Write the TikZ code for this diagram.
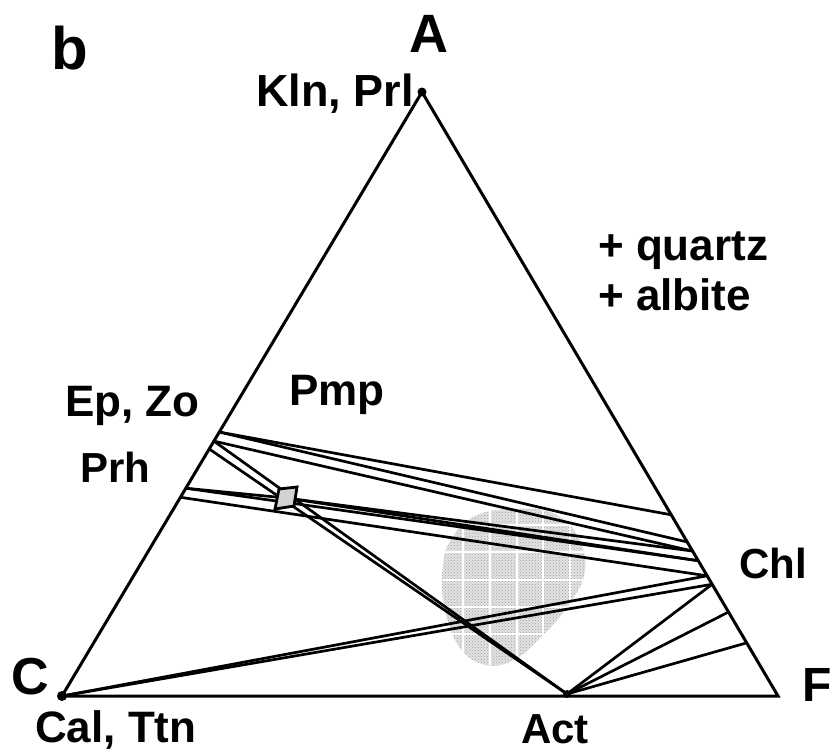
\documentclass[tikz,border=0pt]{standalone}
\usepackage{fontspec}
\setmainfont{Liberation Sans}
\usetikzlibrary{patterns,calc}
\begin{document}
\begin{tikzpicture}[x=1pt,y=-1pt,
  edge/.style={line width=3pt,line join=miter},
  tie/.style={line width=2.7pt,line cap=round},
  lbl/.style={inner sep=0pt,anchor=base west,font=\fontsize{44}{48}\selectfont\bfseries},
  vlbl/.style={inner sep=0pt,anchor=base west,font=\fontsize{54}{58}\selectfont\bfseries}]
\useasboundingbox (0,0) rectangle (834,754);
% vertices
\coordinate (A) at (422,92);
\coordinate (C) at (62,696);
\coordinate (F) at (778,696);
\coordinate (Act) at (567,694);
\coordinate (Pmp) at (286,498);
% points on C-A edge
\coordinate (L1) at ($(A)!0.563!(C)$);
\coordinate (L2) at ($(A)!0.578!(C)$);
\coordinate (L3) at ($(A)!0.591!(C)$);
\coordinate (L4) at ($(A)!0.656!(C)$);
\coordinate (L5) at ($(A)!0.671!(C)$);
% points on A-F edge
\coordinate (R1) at ($(A)!0.700!(F)$);
\coordinate (R2) at ($(A)!0.745!(F)$);
\coordinate (R3) at ($(A)!0.760!(F)$);
\coordinate (R4) at ($(A)!0.776!(F)$);
\coordinate (R5) at ($(A)!0.801!(F)$);
\coordinate (R6) at ($(A)!0.815!(F)$);
\coordinate (R7) at ($(A)!0.861!(F)$);
\coordinate (R8) at ($(A)!0.912!(F)$);
% stippled field
\begin{scope}
\clip plot[smooth cycle,tension=0.7] coordinates {(452,538) (475,516) (512,509) (552,513) (577,535) (585,570) (570,603) (542,636) (512,661) (482,664) (458,645) (444,605) (443,565)};
\fill[gray!22] (430,500) rectangle (600,680);
\fill[pattern=crosshatch dots,pattern color=gray!75] (430,500) rectangle (600,680);
\foreach \gx in {463,490,517,543,570} \draw[white,line width=1.4pt] (\gx,500) -- (\gx,680);
\foreach \gy in {525,552,580,607,634} \draw[white,line width=1.4pt] (430,\gy) -- (600,\gy);
\end{scope}
% tie lines
\draw[tie] (L1) -- (R1);
\draw[tie] (L1) -- (R2);
\draw[tie] (L2) -- (R3);
\draw[tie] (L2) -- (Act);
\draw[tie] (L3) -- (Act);
\draw[tie] (Pmp) -- (R3);
\draw[tie] (Pmp) -- (R4);
\draw[tie] (L4) -- (Pmp);
\draw[tie] (L4) -- (R4);
\draw[tie] (L5) -- (R5);
\draw[tie] (C) -- (R5);
\draw[tie] (C) -- (R6);
\draw[tie] (Act) -- (R6);
\draw[tie] (Act) -- (R7);
\draw[tie] (Act) -- (R8);
% pumpellyite box
\draw[line width=2.8pt,fill=gray!35] (279,489) -- (297,487) -- (294,506) -- (275,509) -- cycle;
% triangle
\draw[edge] (C) -- (A) -- (F) -- cycle;
\fill (A) circle (4.5);
\fill (C) circle (5);
\fill (Act) circle (4);
% labels
\node[inner sep=0pt,anchor=base west,font=\fontsize{60}{64}\selectfont\bfseries] (lb) at (51,70) {b};
\node[vlbl] (lA) at (409,53) {A};
\node[vlbl,font=\fontsize{52}{56}\selectfont\bfseries] (lC) at (11,694) {C};
\node[vlbl,font=\fontsize{48}{52}\selectfont\bfseries] (lF) at (802,701) {F};
\node[lbl,font=\fontsize{45}{50}\selectfont\bfseries] (lKln) at (256,107) {Kln, Prl};
\node[lbl] (lqz) at (598,260) {+ quartz};
\node[lbl] (lab) at (598,310) {+ albite};
\node[lbl] (lEp) at (65,416) {Ep, Zo};
\node[lbl,font=\fontsize{42}{46}\selectfont\bfseries] (lPrh) at (80,482) {Prh};
\node[lbl] (lPmp) at (289,405) {Pmp};
\node[lbl,font=\fontsize{42}{46}\selectfont\bfseries] (lChl) at (739,578) {Chl};
\node[lbl] (lCal) at (35,742) {Cal, Ttn};
\node[lbl,font=\fontsize{42}{46}\selectfont\bfseries] (lAct) at (521,743) {Act};
\end{tikzpicture}
\end{document}
